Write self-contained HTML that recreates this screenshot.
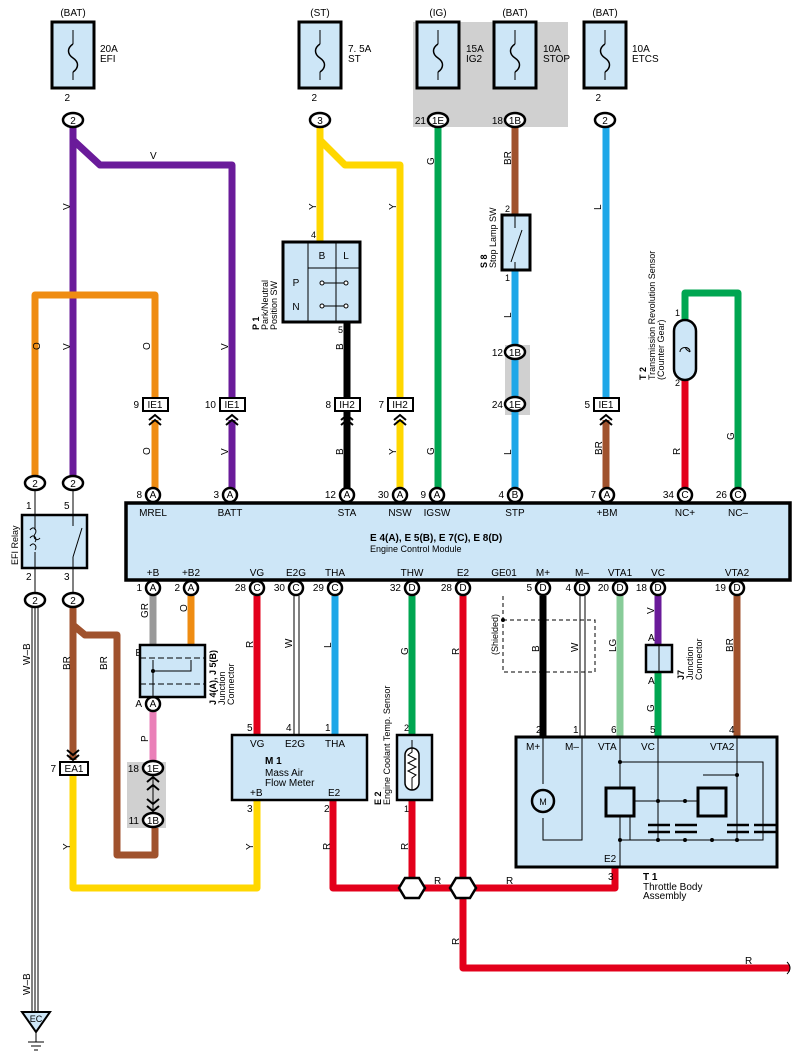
<!DOCTYPE html>
<html><head><meta charset="utf-8"><style>
html,body{margin:0;padding:0;background:#fff}
svg{display:block;font-family:"Liberation Sans",sans-serif}
text{font-size:10px;fill:#000}
.s{font-size:9px}
</style></head><body>
<svg width="802" height="1062" viewBox="0 0 802 1062" xmlns="http://www.w3.org/2000/svg">
<defs>
<g id="fuse"><rect x="-21" y="0" width="42" height="66" fill="#cde6f7" stroke="#000" stroke-width="3"/><line x1="0" y1="8" x2="0" y2="22" stroke="#000"/><path d="M0 22 c-6 4 -6 10 0 14 c6 4 6 10 0 14" fill="none" stroke="#000" stroke-width="1.5"/><line x1="0" y1="50" x2="0" y2="58" stroke="#000"/></g>
</defs>
<!-- gray boxes -->
<rect x="413" y="22" width="155" height="105" fill="#d0d0d0"/>
<rect x="505" y="345" width="25" height="70" fill="#d0d0d0"/>
<rect x="127" y="762" width="39" height="66" fill="#d0d0d0"/>

<!-- wires -->
<g fill="none" stroke-width="7" stroke-linejoin="round">
<path d="M73 125V478" stroke="#6a1b9a"/>
<path d="M73 140L100 165H232V398" stroke="#6a1b9a"/>
<path d="M35 478V295H155V398" stroke="#ef8c12"/>
<path d="M155 420V490" stroke="#ef8c12"/>
<path d="M232 420V490" stroke="#6a1b9a"/>
<path d="M320 125V242" stroke="#ffd700"/>
<path d="M320 140L345 165H400V398" stroke="#ffd700"/>
<path d="M400 420V490" stroke="#ffd700"/>
<path d="M347 322V490" stroke="#000"/>
<path d="M438 125V490" stroke="#00a651"/>
<path d="M515 125V215" stroke="#a0522d"/>
<path d="M515 270V490" stroke="#1ea7e8"/>
<path d="M606 125V398" stroke="#1ea7e8"/>
<path d="M606 420V490" stroke="#a0522d"/>
<path d="M685 320V293H738V490" stroke="#00a651"/>
<path d="M685 380V490" stroke="#e3001b"/>
<path d="M153 596V645" stroke="#999"/>
<path d="M191 596V645" stroke="#ef8c12"/>
<path d="M153 712V762" stroke="#ea80b8"/>
<path d="M73 606V760" stroke="#a0522d"/>
<path d="M73 625L85 635H117V855H155V828" stroke="#a0522d"/>
<path d="M73 775V888H257V800" stroke="#ffd700"/>
<path d="M257 596V735" stroke="#e3001b"/>
<path d="M335 596V735" stroke="#1ea7e8"/>
<path d="M412 596V735" stroke="#00a651"/>
<path d="M333 800V888H615V868" stroke="#e3001b"/>
<path d="M412 800V888" stroke="#e3001b"/>
<path d="M463 596V968H790" stroke="#e3001b"/>
<path d="M543 596V737" stroke="#000"/>
<path d="M620 596V737" stroke="#88cc99"/>
<path d="M658 596V645" stroke="#6a1b9a"/>
<path d="M658 672V737" stroke="#00a651"/>
<path d="M737 596V737" stroke="#a0522d"/>
</g>
<g fill="none" stroke="#000" stroke-width="1">
<path d="M294 596V735M299 596V735M580 596V737M585 596V737"/>
<path d="M32 606V1012M35 606V1012M38 606V1012"/>
<path d="M787 962q6 6 0 12"/>
</g>
<!-- fuses -->
<use href="#fuse" x="73" y="22"/><use href="#fuse" x="320" y="22"/><use href="#fuse" x="438" y="22"/><use href="#fuse" x="515" y="22"/><use href="#fuse" x="605" y="22"/>
<g class="s" text-anchor="middle"><text x="73" y="16">(BAT)</text><text x="320" y="16">(ST)</text><text x="438" y="16">(IG)</text><text x="515" y="16">(BAT)</text><text x="605" y="16">(BAT)</text></g>
<g class="s"><text x="100" y="52">20A</text><text x="100" y="62">EFI</text><text x="348" y="52">7. 5A</text><text x="348" y="62">ST</text><text x="466" y="52">15A</text><text x="466" y="62">IG2</text><text x="543" y="52">10A</text><text x="543" y="62">STOP</text><text x="632" y="52">10A</text><text x="632" y="62">ETCS</text></g>

<!-- connectors -->
<g stroke="#000" stroke-width="2.5" fill="#fff">
<ellipse cx="73" cy="120" rx="10" ry="7"/><ellipse cx="320" cy="120" rx="10" ry="7"/><ellipse cx="438" cy="120" rx="10" ry="7"/><ellipse cx="515" cy="120" rx="10" ry="7"/><ellipse cx="605" cy="120" rx="10" ry="7"/>
<ellipse cx="515" cy="352" rx="10" ry="7"/><ellipse cx="515" cy="404" rx="10" ry="7"/>
<ellipse cx="35" cy="483" rx="10" ry="7"/><ellipse cx="73" cy="483" rx="10" ry="7"/>
<ellipse cx="35" cy="600" rx="10" ry="7"/><ellipse cx="73" cy="600" rx="10" ry="7"/>
<ellipse cx="153" cy="768" rx="10" ry="7"/><ellipse cx="153" cy="820" rx="10" ry="7"/>
</g>
<g class="s" text-anchor="middle"><text x="73" y="124">2</text><text x="320" y="124">3</text><text x="438" y="124">1E</text><text x="515" y="124">1B</text><text x="605" y="124">2</text><text x="515" y="356">1B</text><text x="515" y="408">1E</text><text x="35" y="487">2</text><text x="73" y="487">2</text><text x="35" y="604">2</text><text x="73" y="604">2</text><text x="153" y="772">1E</text><text x="153" y="824">1B</text></g>
<g class="s" text-anchor="end"><text x="70" y="101">2</text><text x="317" y="101">2</text><text x="426" y="124">21</text><text x="503" y="124">18</text><text x="601" y="101">2</text><text x="503" y="356">12</text><text x="503" y="408">24</text><text x="139" y="772">18</text><text x="139" y="824">11</text></g>
<!-- box connectors -->
<g stroke="#000" stroke-width="2" fill="#fff">
<rect x="143" y="398" width="25" height="13"/><rect x="220" y="398" width="25" height="13"/><rect x="335" y="398" width="25" height="13"/><rect x="388" y="398" width="25" height="13"/><rect x="594" y="398" width="25" height="13"/><rect x="60" y="762" width="28" height="13"/>
</g>
<g class="s" text-anchor="middle"><text x="155" y="408">IE1</text><text x="232" y="408">IE1</text><text x="347" y="408">IH2</text><text x="400" y="408">IH2</text><text x="606" y="408">IE1</text><text x="74" y="772">EA1</text></g>
<g class="s" text-anchor="end"><text x="139" y="408">9</text><text x="216" y="408">10</text><text x="331" y="408">8</text><text x="384" y="408">7</text><text x="590" y="408">5</text><text x="56" y="772">7</text></g>
<g fill="none" stroke="#000" stroke-width="2"><path d="M149 420l6-5 6 5M149 425l6-5 6 5M226 420l6-5 6 5M226 425l6-5 6 5M341 420l6-5 6 5M341 425l6-5 6 5M394 420l6-5 6 5M394 425l6-5 6 5M600 420l6-5 6 5M600 425l6-5 6 5M67 750l6 5 6-5M67 755l6 5 6-5"/></g>

<!-- ECM -->
<rect x="126" y="503" width="664" height="77" fill="#cde6f7" stroke="#000" stroke-width="3.5"/>
<g stroke="#000" stroke-width="2.5" fill="#fff">
<circle cx="153" cy="495" r="7"/><circle cx="230" cy="495" r="7"/><circle cx="347" cy="495" r="7"/><circle cx="400" cy="495" r="7"/><circle cx="437" cy="495" r="7"/><circle cx="515" cy="495" r="7"/><circle cx="607" cy="495" r="7"/><circle cx="685" cy="495" r="7"/><circle cx="738" cy="495" r="7"/>
<circle cx="153" cy="588" r="7"/><circle cx="191" cy="588" r="7"/><circle cx="257" cy="588" r="7"/><circle cx="296" cy="588" r="7"/><circle cx="335" cy="588" r="7"/><circle cx="412" cy="588" r="7"/><circle cx="463" cy="588" r="7"/><circle cx="543" cy="588" r="7"/><circle cx="582" cy="588" r="7"/><circle cx="620" cy="588" r="7"/><circle cx="658" cy="588" r="7"/><circle cx="737" cy="588" r="7"/>
<circle cx="153" cy="653" r="7"/><circle cx="191" cy="653" r="7"/><circle cx="153" cy="704" r="7"/>
</g>
<g class="s" text-anchor="middle"><text x="153" y="498">A</text><text x="230" y="498">A</text><text x="347" y="498">A</text><text x="400" y="498">A</text><text x="437" y="498">A</text><text x="515" y="498">B</text><text x="607" y="498">A</text><text x="685" y="498">C</text><text x="738" y="498">C</text>
<text x="153" y="591">A</text><text x="191" y="591">A</text><text x="257" y="591">C</text><text x="296" y="591">C</text><text x="335" y="591">C</text><text x="412" y="591">D</text><text x="463" y="591">D</text><text x="543" y="591">D</text><text x="582" y="591">D</text><text x="620" y="591">D</text><text x="658" y="591">D</text><text x="737" y="591">D</text>
<text x="153" y="656">B</text><text x="191" y="656">B</text><text x="153" y="707">A</text></g>
<g class="s" text-anchor="end"><text x="142" y="498">8</text><text x="219" y="498">3</text><text x="336" y="498">12</text><text x="389" y="498">30</text><text x="426" y="498">9</text><text x="504" y="498">4</text><text x="596" y="498">7</text><text x="674" y="498">34</text><text x="727" y="498">26</text>
<text x="142" y="591">1</text><text x="180" y="591">2</text><text x="246" y="591">28</text><text x="285" y="591">30</text><text x="324" y="591">29</text><text x="401" y="591">32</text><text x="452" y="591">28</text><text x="532" y="591">5</text><text x="571" y="591">4</text><text x="609" y="591">20</text><text x="647" y="591">18</text><text x="726" y="591">19</text>
<text x="142" y="656">E</text><text x="180" y="656">E</text><text x="142" y="707">A</text></g>
<g class="s" text-anchor="middle"><text x="153" y="516">MREL</text><text x="230" y="516">BATT</text><text x="347" y="516">STA</text><text x="400" y="516">NSW</text><text x="437" y="516">IGSW</text><text x="515" y="516">STP</text><text x="607" y="516">+BM</text><text x="685" y="516">NC+</text><text x="738" y="516">NC–</text>
<text x="153" y="576">+B</text><text x="191" y="576">+B2</text><text x="257" y="576">VG</text><text x="296" y="576">E2G</text><text x="335" y="576">THA</text><text x="412" y="576">THW</text><text x="463" y="576">E2</text><text x="504" y="576">GE01</text><text x="543" y="576">M+</text><text x="582" y="576">M–</text><text x="620" y="576">VTA1</text><text x="658" y="576">VC</text><text x="737" y="576">VTA2</text></g>
<text x="370" y="541" style="font-weight:bold">E 4(A), E 5(B), E 7(C), E 8(D)</text>
<text x="370" y="552" class="s">Engine Control Module</text>

<!-- P1 switch -->
<rect x="283" y="242" width="77" height="80" fill="#cde6f7" stroke="#000" stroke-width="3"/>
<g stroke="#000" fill="none"><line x1="308" y1="242" x2="308" y2="322"/><line x1="336" y1="242" x2="336" y2="322"/><line x1="308" y1="268" x2="360" y2="268"/><line x1="322" y1="283" x2="346" y2="283"/><line x1="322" y1="306" x2="346" y2="306"/></g>
<g fill="#fff" stroke="#000"><circle cx="322" cy="283" r="2"/><circle cx="346" cy="283" r="2"/><circle cx="322" cy="306" r="2"/><circle cx="346" cy="306" r="2"/></g>
<g class="s" text-anchor="middle"><text x="322" y="259">B</text><text x="346" y="259">L</text><text x="296" y="286">P</text><text x="296" y="310">N</text></g>
<text x="316" y="238" class="s" text-anchor="end">4</text><text x="343" y="333" class="s" text-anchor="end">5</text>
<text class="s" transform="translate(259,330) rotate(-90)"><tspan style="font-weight:bold">P 1</tspan></text>
<text class="s" transform="translate(268,330) rotate(-90)">Park/Neutral</text>
<text class="s" transform="translate(277,330) rotate(-90)">Position SW</text>

<!-- S8 -->
<rect x="502" y="215" width="28" height="55" fill="#cde6f7" stroke="#000" stroke-width="3"/>
<path d="M515 215V228M511 262L522 230M515 262V270" stroke="#000" fill="none"/>
<text x="510" y="212" class="s" text-anchor="end">2</text><text x="510" y="281" class="s" text-anchor="end">1</text>
<text class="s" transform="translate(487,268) rotate(-90)"><tspan style="font-weight:bold">S 8</tspan></text>
<text class="s" transform="translate(496,268) rotate(-90)">Stop Lamp SW</text>

<!-- T2 -->
<rect x="674" y="320" width="22" height="60" rx="11" fill="#cde6f7" stroke="#000" stroke-width="2.5"/>
<path d="M680 352c0-6 10-6 10 0c0-6 -10-6 0 0" stroke="#000" fill="none"/>
<text x="680" y="316" class="s" text-anchor="end">1</text><text x="680" y="386" class="s" text-anchor="end">2</text>
<text class="s" transform="translate(646,380) rotate(-90)"><tspan style="font-weight:bold">T 2</tspan></text>
<text class="s" transform="translate(655,380) rotate(-90)">Transmission Revolution Sensor</text>
<text class="s" transform="translate(664,380) rotate(-90)">(Counter Gear)</text>

<!-- relay -->
<rect x="22" y="515" width="65" height="53" fill="#cde6f7" stroke="#000" stroke-width="2.5"/>
<path d="M35 490V515M35 568V593M73 490V515M73 568V593" stroke="#000"/>
<path d="M35 515V530M35 552V568M30 530c3-5 8 0 5 4c-3 4 2 8 5 4M30 538c3-5 8 0 5 4M30 546c3-5 8 0 5 4" stroke="#000" fill="none"/>
<path d="M73 515V526M73 557V568M73 557L82 528" stroke="#000" fill="none"/>
<g class="s"><text x="26" y="509">1</text><text x="64" y="509">5</text><text x="26" y="580">2</text><text x="64" y="580">3</text></g>
<text class="s" transform="translate(18,565) rotate(-90)">EFI Relay</text>

<!-- J4 J5 -->
<rect x="140" y="645" width="65" height="52" fill="#cde6f7" stroke="#000" stroke-width="2.5"/>
<path d="M140 658H205M140 684H205" stroke="#000" stroke-dasharray="6 3"/>
<path d="M153 660V697M191 660V671H153" stroke="#000" fill="none"/><circle cx="153" cy="671" r="2"/>
<text class="s" transform="translate(216,705) rotate(-90)"><tspan style="font-weight:bold">J 4(A), J 5(B)</tspan></text>
<text class="s" transform="translate(225,705) rotate(-90)">Junction</text>
<text class="s" transform="translate(234,705) rotate(-90)">Connector</text>
<path d="M153 776V812" stroke="#000"/><path d="M147 782l6-5 6 5M147 806l6 5 6-5" stroke="#000" fill="none" stroke-width="2"/>
<path d="M147 790l6-5 6 5M147 799l6 5 6-5" stroke="#000" fill="none" stroke-width="2"/>

<!-- M1 -->
<rect x="232" y="735" width="135" height="65" fill="#cde6f7" stroke="#000" stroke-width="2.5"/>
<g class="s"><text x="250" y="747">VG</text><text x="285" y="747">E2G</text><text x="325" y="747">THA</text><text x="250" y="796">+B</text><text x="328" y="796">E2</text><text x="265" y="764" style="font-weight:bold">M 1</text><text x="265" y="776">Mass Air</text><text x="265" y="786">Flow Meter</text>
<text x="247" y="731">5</text><text x="286" y="731">4</text><text x="325" y="731">1</text><text x="247" y="812">3</text><text x="324" y="812">2</text></g>

<!-- E2 sensor -->
<rect x="397" y="735" width="35" height="65" fill="#cde6f7" stroke="#000" stroke-width="2.5"/>
<rect x="405" y="748" width="14" height="42" rx="7" fill="#fff" stroke="#000" stroke-width="1.5"/>
<path d="M412 740v12l-4 3 8 4-8 4 8 4-8 4 8 4-4 3v12" stroke="#000" fill="none"/>
<text x="404" y="731" class="s">2</text><text x="404" y="812" class="s">1</text>
<text class="s" transform="translate(381,805) rotate(-90)"><tspan style="font-weight:bold">E 2</tspan></text>
<text class="s" transform="translate(390,805) rotate(-90)">Engine Coolant Temp. Sensor</text>

<!-- splices -->
<g fill="#fff" stroke="#000" stroke-width="2.5"><polygon points="405,878 419,878 425,888 419,898 405,898 399,888"/><polygon points="456,878 470,878 476,888 470,898 456,898 450,888"/></g>

<!-- shield -->
<rect x="503" y="620" width="92" height="52" fill="none" stroke="#000" stroke-dasharray="4 3"/>
<path d="M503 596V620" stroke="#000" stroke-dasharray="4 3"/><circle cx="503" cy="620" r="2"/>
<text class="s" transform="translate(498,655) rotate(-90)">(Shielded)</text>

<!-- J7 -->
<rect x="646" y="645" width="26" height="27" fill="#cde6f7" stroke="#000" stroke-width="2.5"/><line x1="659" y1="645" x2="659" y2="672" stroke="#000"/>
<g class="s"><text x="648" y="641">A</text><text x="648" y="684">A</text></g>
<text class="s" transform="translate(684,680) rotate(-90)"><tspan style="font-weight:bold">J7</tspan></text>
<text class="s" transform="translate(693,680) rotate(-90)">Junction</text>
<text class="s" transform="translate(702,680) rotate(-90)">Connector</text>

<!-- T1 -->
<rect x="516" y="737" width="261" height="130" fill="#cde6f7" stroke="#000" stroke-width="3"/>
<g stroke="#000" fill="none">
<path d="M543 737V784M543 818V840H582V737M620 737V867M620 762H763V840H620M658 737V840M737 737V840M703 775H737M620 801H703M630 840V810"/>
<path d="M648 825h22M648 832h22M675 825h22M675 832h22M727 825h22M727 832h22M754 825h22M754 832h22" stroke-width="2.5"/>
</g>
<circle cx="543" cy="801" r="11" fill="#cde6f7" stroke="#000" stroke-width="2.5"/><text x="543" y="805" class="s" text-anchor="middle">M</text>
<rect x="606" y="788" width="28" height="28" fill="#cde6f7" stroke="#000" stroke-width="3"/>
<rect x="698" y="788" width="28" height="28" fill="#cde6f7" stroke="#000" stroke-width="3"/>
<g><circle cx="620" cy="762" r="2"/><circle cx="737" cy="775" r="2"/><circle cx="658" cy="801" r="2"/><circle cx="685" cy="801" r="2"/><circle cx="620" cy="840" r="2"/><circle cx="658" cy="840" r="2"/><circle cx="685" cy="840" r="2"/><circle cx="712" cy="840" r="2"/><circle cx="737" cy="840" r="2"/></g>
<g class="s"><text x="526" y="750">M+</text><text x="565" y="750">M–</text><text x="598" y="750">VTA</text><text x="641" y="750">VC</text><text x="710" y="750">VTA2</text><text x="604" y="862">E2</text>
<text x="536" y="733">2</text><text x="573" y="733">1</text><text x="611" y="733">6</text><text x="650" y="733">5</text><text x="729" y="733">4</text><text x="608" y="880">3</text>
<text x="643" y="880" style="font-weight:bold">T 1</text><text x="643" y="890">Throttle Body</text><text x="643" y="899">Assembly</text></g>

<!-- ground -->
<polygon points="22,1012 50,1012 36,1032" fill="#cde6f7" stroke="#000" stroke-width="2"/>
<text x="36" y="1022" class="s" text-anchor="middle">EC</text>
<path d="M36 1032V1042M28 1042H44M31 1046H41M34 1050H38" stroke="#000"/>

<!-- wire color labels (rotated) -->
<g class="s">
<text transform="translate(70,210) rotate(-90)">V</text><text x="150" y="159">V</text>
<text transform="translate(40,350) rotate(-90)">O</text><text transform="translate(70,350) rotate(-90)">V</text><text transform="translate(150,350) rotate(-90)">O</text><text transform="translate(228,350) rotate(-90)">V</text>
<text transform="translate(316,210) rotate(-90)">Y</text><text transform="translate(396,210) rotate(-90)">Y</text><text transform="translate(434,165) rotate(-90)">G</text><text transform="translate(511,165) rotate(-90)">BR</text><text transform="translate(601,210) rotate(-90)">L</text>
<text transform="translate(343,350) rotate(-90)">B</text><text transform="translate(511,318) rotate(-90)">L</text>
<text transform="translate(150,455) rotate(-90)">O</text><text transform="translate(228,455) rotate(-90)">V</text><text transform="translate(343,455) rotate(-90)">B</text><text transform="translate(396,455) rotate(-90)">Y</text><text transform="translate(434,455) rotate(-90)">G</text><text transform="translate(511,455) rotate(-90)">L</text><text transform="translate(602,455) rotate(-90)">BR</text><text transform="translate(680,455) rotate(-90)">R</text><text transform="translate(734,440) rotate(-90)">G</text>
<text transform="translate(30,665) rotate(-90)">W–B</text><text transform="translate(30,995) rotate(-90)">W–B</text><text transform="translate(70,670) rotate(-90)">BR</text><text transform="translate(107,670) rotate(-90)">BR</text>
<text transform="translate(148,618) rotate(-90)">GR</text><text transform="translate(187,612) rotate(-90)">O</text><text transform="translate(148,742) rotate(-90)">P</text>
<text transform="translate(70,850) rotate(-90)">Y</text><text transform="translate(253,850) rotate(-90)">Y</text><text transform="translate(253,648) rotate(-90)">R</text><text transform="translate(292,648) rotate(-90)">W</text><text transform="translate(331,648) rotate(-90)">L</text><text transform="translate(408,655) rotate(-90)">G</text>
<text transform="translate(459,655) rotate(-90)">R</text><text transform="translate(330,850) rotate(-90)">R</text><text transform="translate(408,850) rotate(-90)">R</text><text transform="translate(459,945) rotate(-90)">R</text>
<text x="434" y="884">R</text><text x="506" y="884">R</text><text x="745" y="964">R</text>
<text transform="translate(539,652) rotate(-90)">B</text><text transform="translate(578,652) rotate(-90)">W</text><text transform="translate(616,652) rotate(-90)">LG</text><text transform="translate(654,614) rotate(-90)">V</text><text transform="translate(654,712) rotate(-90)">G</text><text transform="translate(733,652) rotate(-90)">BR</text>
</g>
</svg>
</body></html>
